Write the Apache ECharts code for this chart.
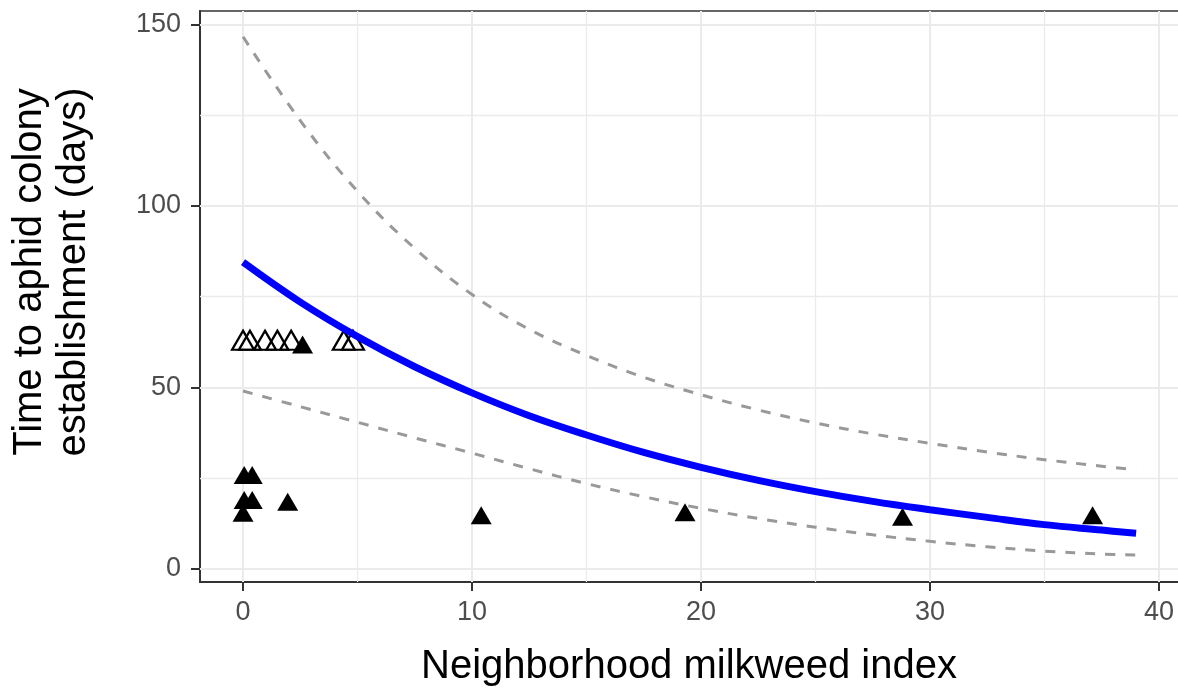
<!DOCTYPE html>
<html>
<head>
<meta charset="utf-8">
<script src="https://cdn.jsdelivr.net/npm/echarts@6/dist/echarts.min.js"></script>
<style>
  html, body { margin: 0; padding: 0; background: #fff; }
  #chart { width: 1178px; height: 690px; }
</style>
</head>
<body>
<div id="chart"></div>
<script>
// Fitted curve and confidence band, sampled along the milkweed index
const curveX  = [0, 2.5, 5, 7.5, 10, 12.5, 15, 17.5, 20, 22.5, 25, 27.5, 30, 32.5, 35, 37.5, 39];
const fitted  = [84.5, 73.5, 64, 55.7, 48.5, 42.2, 36.9, 32.1, 28, 24.4, 21.3, 18.6, 16.3, 14.2, 12.2, 10.7, 9.8];
const upperCI = [146.6, 123.5, 104, 88.3, 75.6, 66, 58.8, 52.8, 48, 43.8, 40.2, 37.2, 34.6, 32.2, 30.1, 28.3, 27.3];
const lowerCI = [49, 44.7, 40.4, 36.1, 31.9, 27.6, 23.5, 19.9, 16.7, 13.9, 11.5, 9.4, 7.6, 6.1, 4.9, 4.1, 3.8];

// Observed plants: colony established (filled) and censored (open)
const filledX = [0.05, 0.4, 0.05, 0.4, 0.0, 1.95, 2.6, 10.4, 19.3, 28.8, 37.1];
const filledY = [25.9, 25.9, 19, 19, 15.5, 18.5, 61.8, 14.8, 15.6, 14.4, 14.8];
const openX   = [0.0, 0.3, 0.96, 1.5, 2.1, 4.4, 4.8];
const openY   = [63, 63, 63, 63, 63, 63, 63];

// Axis ticks and grid lines
const xTicks = [0, 10, 20, 30, 40];
const yTicks = [0, 50, 100, 150];
const xMinor = [5, 15, 25, 35];
const yMinor = [25, 75, 125];

const FONT = "'Liberation Sans', Arial, Helvetica, sans-serif";
const FRAME = { color: '#333333', width: 2 };

const zip = (xs, ys) => xs.map((x, i) => [x, ys[i]]);

const gridLines = [
  ...xTicks.map(v => ({ xAxis: v, lineStyle: { width: 2 } })),
  ...xMinor.map(v => ({ xAxis: v, lineStyle: { width: 1.3 } })),
  ...yTicks.map(v => ({ yAxis: v, lineStyle: { width: 2 } })),
  ...yMinor.map(v => ({ yAxis: v, lineStyle: { width: 1.3 } }))
];

const chart = echarts.init(document.getElementById('chart'), null, { renderer: 'canvas' });

chart.setOption({
  animation: false,
  backgroundColor: '#ffffff',
  grid: { left: 200, top: 11, right: 0, bottom: 108, show: false },
  xAxis: [
    {
      type: 'value', min: -1.88, max: 40.83, position: 'bottom',
      axisLine: { show: true, onZero: false, lineStyle: FRAME },
      splitLine: { show: false },
      axisTick: { show: true, customValues: xTicks, length: 9, lineStyle: { color: '#333333', width: 2 } },
      axisLabel: { customValues: xTicks, color: '#4d4d4d', fontSize: 27, fontFamily: FONT, margin: 17 }
    },
    {
      // top edge of the panel frame
      type: 'value', min: -1.88, max: 40.83, position: 'top',
      axisLine: { show: true, onZero: false, lineStyle: { color: '#333333', width: 1.6 } },
      axisTick: { show: false }, axisLabel: { show: false }, splitLine: { show: false }
    }
  ],
  yAxis: {
    type: 'value', min: -3.6, max: 153.7,
    axisLine: { show: true, onZero: false, lineStyle: FRAME },
    splitLine: { show: false },
    axisTick: { show: true, customValues: yTicks, length: 9, lineStyle: { color: '#333333', width: 2 } },
    axisLabel: { customValues: yTicks, color: '#4d4d4d', fontSize: 27, fontFamily: FONT, margin: 19 }
  },
  graphic: [
    {
      type: 'text', x: 52, y: 272, rotation: Math.PI / 2,
      style: {
        text: 'Time to aphid colony\nestablishment (days)',
        font: '40px ' + FONT, fill: '#000000',
        align: 'center', verticalAlign: 'middle', lineHeight: 44
      }
    },
    {
      type: 'text', x: 689, y: 667,
      style: {
        text: 'Neighborhood milkweed index',
        font: '40px ' + FONT, fill: '#000000',
        align: 'center', verticalAlign: 'middle'
      }
    }
  ],
  series: [
    {
      name: 'grid', type: 'scatter', data: [], silent: true, z: 1,
      markLine: {
        silent: true, symbol: 'none', z: 1, animation: false,
        label: { show: false },
        lineStyle: { color: '#ebebeb', type: 'solid' },
        emphasis: { disabled: true },
        data: gridLines
      }
    },
    {
      name: 'upper', type: 'line', data: zip(curveX, upperCI), smooth: 0.4,
      showSymbol: false, z: 3, silent: true,
      lineStyle: { color: '#999999', width: 3, type: [10, 10] }
    },
    {
      name: 'lower', type: 'line', data: zip(curveX, lowerCI), smooth: 0.4,
      showSymbol: false, z: 3, silent: true,
      lineStyle: { color: '#999999', width: 3, type: [10, 10] }
    },
    {
      name: 'open', type: 'scatter', data: zip(openX, openY), z: 4,
      symbol: 'triangle', symbolSize: [22, 19],
      itemStyle: { color: 'rgba(0,0,0,0)', borderColor: '#000000', borderWidth: 2.2, opacity: 1 }
    },
    {
      name: 'filled', type: 'scatter', data: zip(filledX, filledY), z: 4,
      symbol: 'triangle', symbolSize: [21, 18],
      itemStyle: { color: '#000000', opacity: 1 }
    },
    {
      name: 'fit', type: 'line', data: zip(curveX, fitted), smooth: 0.4,
      showSymbol: false, z: 5, silent: true,
      lineStyle: { color: '#0000ff', width: 7, cap: 'butt' }
    }
  ]
});
</script>
</body>
</html>
